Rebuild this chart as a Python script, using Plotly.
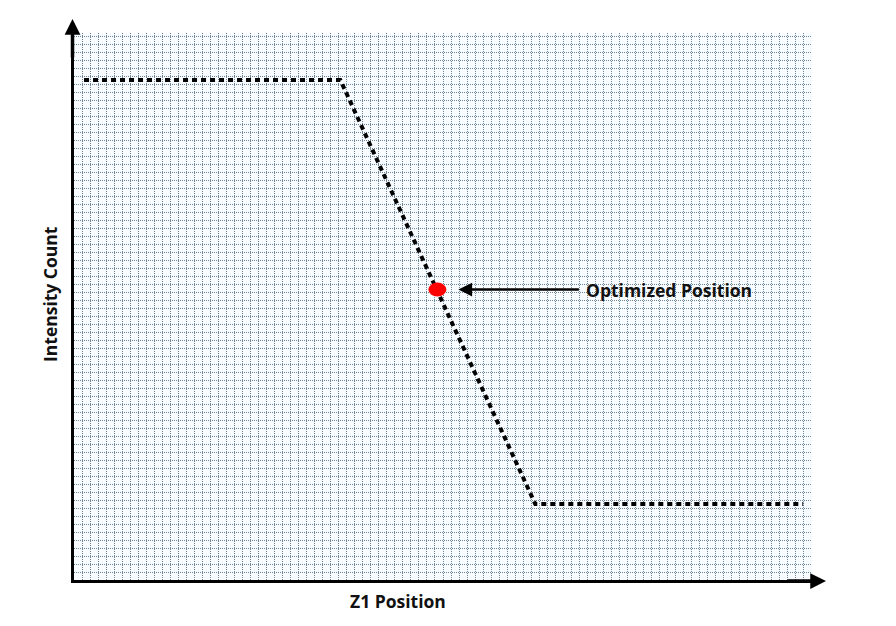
import plotly.graph_objects as go

# Data (arbitrary units)
z1_position = [1.25, 33.2, 57.5, 90.9]
intensity_count = [62.5, 62.5, 9.5, 9.5]
optimized_x = [45.3]
optimized_y = [36.3]
x_title = "Z1 Position"
y_title = "Intensity Count"
point_label = "Optimized Position"

FONT = "Open Sans"

# page offset (browser body margin)
OFF = 8
W, H = 880, 610
L, T = 74 - OFF, 33 - OFF
pw, ph = 738, 547
R = W - L - pw
B = H - T - ph

fig = go.Figure()

fig.add_trace(go.Scatter(
    x=z1_position, y=intensity_count, mode="lines",
    line=dict(color="black", width=4, dash="5px,4px"),
    hoverinfo="skip", showlegend=False,
))

fig.add_shape(
    type="circle", xref="x", yref="y",
    xsizemode="pixel", ysizemode="pixel",
    xanchor=optimized_x[0], yanchor=optimized_y[0],
    x0=-9, x1=9, y0=-7, y1=7,
    fillcolor="#ff0000", line=dict(color="#ff0000", width=0),
)


def px_to_paper(px, py):
    return (px - OFF - L) / pw, (H - B - (py - OFF)) / ph


xt = px_to_paper(398, 601)
yt = px_to_paper(50, 294)

annotations = [
    dict(x=optimized_x[0], y=optimized_y[0], xref="x", yref="y",
         ax=143, ay=0, text="", showarrow=True,
         arrowhead=2, arrowsize=1.1, arrowwidth=2.5, arrowcolor="black",
         standoff=21),
    dict(x=optimized_x[0], y=optimized_y[0], xref="x", yref="y",
         xshift=147, text="<b>" + point_label + "</b>", showarrow=False,
         xanchor="left", yanchor="middle",
         font=dict(family=FONT, size=17.5, color="#111111")),
    dict(x=0, y=1, xref="paper", yref="paper", xshift=-1.5, yshift=14,
         ax=0, ay=40, text="", showarrow=True,
         arrowhead=2, arrowsize=0.9, arrowwidth=3.5, arrowcolor="black"),
    dict(x=1, y=0, xref="paper", yref="paper", xshift=14, yshift=-1,
         ax=-40, ay=0, text="", showarrow=True,
         arrowhead=2, arrowsize=0.9, arrowwidth=3.5, arrowcolor="black"),
    dict(x=xt[0], y=xt[1], xref="paper", yref="paper", text="<b>" + x_title + "</b>",
         showarrow=False, xanchor="center", yanchor="middle",
         font=dict(family=FONT, size=17.5, color="#111111")),
    dict(x=yt[0], y=yt[1], xref="paper", yref="paper", text="<b>" + y_title + "</b>",
         showarrow=False, textangle=-90, xanchor="center", yanchor="middle",
         font=dict(family=FONT, size=17.5, color="#111111")),
]

fig.update_layout(
    width=W, height=H,
    margin=dict(l=L, r=R, t=T, b=B),
    paper_bgcolor="white",
    plot_bgcolor="#f8fbff",
    annotations=annotations,
    xaxis=dict(range=[0, 92], dtick=1, tick0=0, showticklabels=False, ticks="",
               showgrid=True, gridcolor="#6d8894", gridwidth=1, griddash="1px,1px",
               zeroline=False, showline=True, linecolor="black", linewidth=3,
               fixedrange=True),
    yaxis=dict(range=[0, 68.375], dtick=1, tick0=0, showticklabels=False, ticks="",
               showgrid=True, gridcolor="#6d8894", gridwidth=1, griddash="1px,1px",
               zeroline=False, showline=True, linecolor="black", linewidth=3,
               fixedrange=True),
)

fig.write_html("out.html")
